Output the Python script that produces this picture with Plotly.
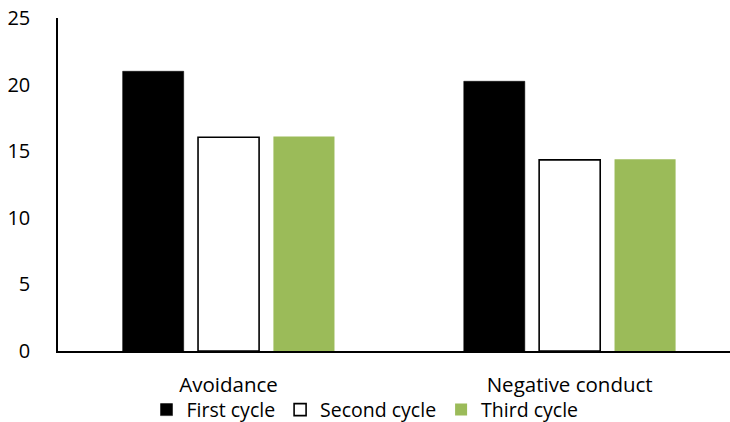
import plotly.graph_objects as go

# Scores by category for each survey cycle
categories = ["Avoidance", "Negative conduct"]
first_cycle = [21.0, 20.25]
second_cycle = [16.05, 14.35]
third_cycle = [16.1, 14.4]
y_ticks = [0, 5, 10, 15, 20, 25]

FONT = "'Open Sans', 'Noto Sans', sans-serif"
GREEN = "#9BBB59"

fig = go.Figure()
fig.add_trace(go.Bar(name="First cycle", x=categories, y=first_cycle,
                     marker=dict(color="#000000", line=dict(color="#000000", width=0.5))))
fig.add_trace(go.Bar(name="Second cycle", x=categories, y=second_cycle,
                     marker=dict(color="#FFFFFF", line=dict(color="#000000", width=1.6))))
fig.add_trace(go.Bar(name="Third cycle", x=categories, y=third_cycle,
                     marker=dict(color=GREEN, line=dict(color=GREEN, width=0))))

fig.update_layout(
    width=730, height=422,
    margin=dict(l=58, r=0, t=18, b=71, autoexpand=False),
    paper_bgcolor="white", plot_bgcolor="white",
    barmode="group", bargap=0.337, bargroupgap=0.19,
    font=dict(family=FONT, color="#000000"),
    showlegend=True,
    legend=dict(orientation="h", xref="container", yref="paper",
                x=0.5, xanchor="center", y=-0.177, yanchor="middle",
                bgcolor="rgba(0,0,0,0)",
                font=dict(size=19.5, family=FONT), itemwidth=30,
                tracegroupgap=0, traceorder="normal"),
)
fig.update_xaxes(
    type="category", range=[-0.5, 1.47],
    showline=True, linecolor="#000000", linewidth=2,
    showgrid=False, ticks="", ticklabelstandoff=14,
    tickfont=dict(size=20.5, family=FONT),
)
fig.update_yaxes(
    range=[0, 25], tickvals=y_ticks,
    showline=True, linecolor="#000000", linewidth=1.5,
    showgrid=False, zeroline=False, ticks="", ticklabelstandoff=22,
    tickfont=dict(size=20, family=FONT),
)

fig.write_html("out.html")
